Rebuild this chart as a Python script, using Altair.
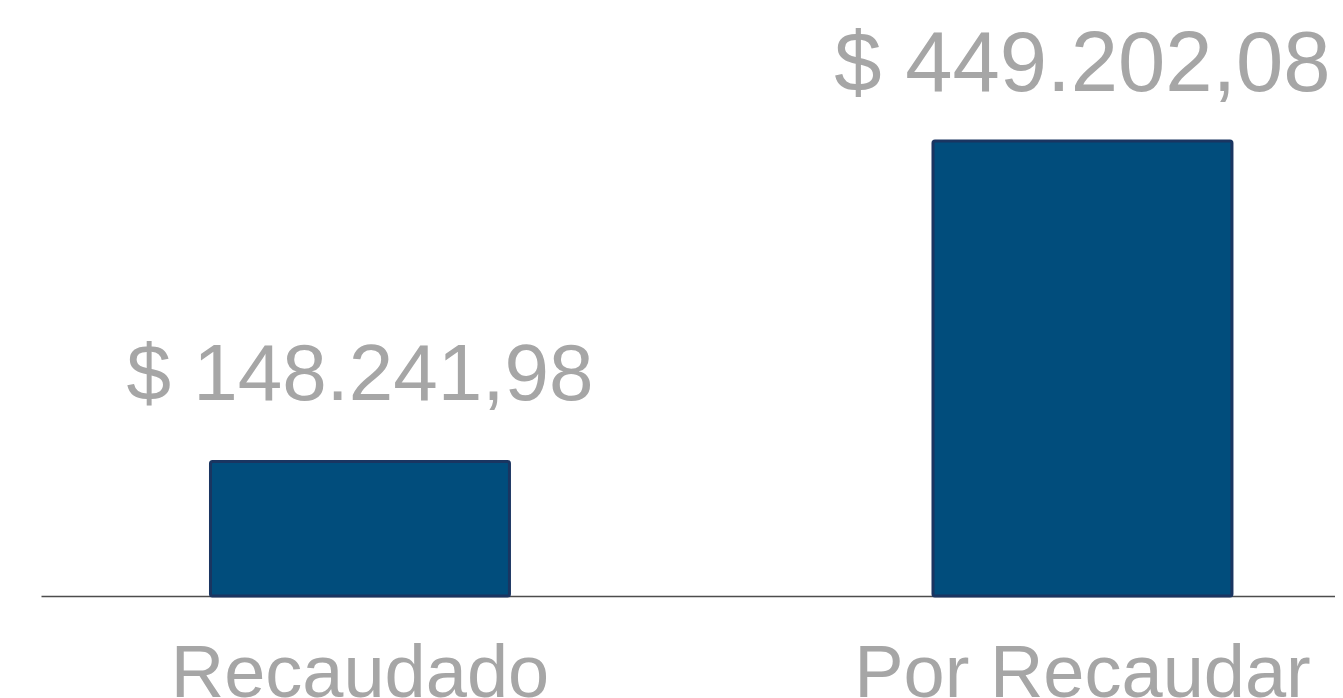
import altair as alt
import pandas as pd

categorias = ["Recaudado", "Por Recaudar"]
valores = [148241.98, 449202.08]
y_min = 22000            # lower end of the value axis (bars)
y_min_etiquetas = 6000   # lower end of the value axis used for the value labels


def fmt(v):
    s = f"{v:,.2f}"
    s = s.replace(",", "X").replace(".", ",").replace("X", ".")
    return "$ " + s


df = pd.DataFrame({
    "categoria": categorias,
    "valor": valores,
    "etiqueta": [fmt(v) for v in valores],
})

FONT = "Liberation Sans"
GRAY = "#a6a6a6"

x = alt.X(
    "categoria:N",
    sort=categorias,
    title=None,
    scale=alt.Scale(paddingInner=0.5862, paddingOuter=0.1886, align=0.6219),
    axis=alt.Axis(
        domainColor="#4d4d4d",
        domainWidth=1.3,
        ticks=False,
        grid=False,
        labelAngle=0,
        labelFont=FONT,
        labelFontSize=74,
        labelColor=GRAY,
        labelLimit=0,
        labelPadding=100,
        labelBaseline="alphabetic",
    ),
)

bars = alt.Chart(df).mark_bar(
    color="#014d7c", stroke="#1a3561", strokeWidth=3, cornerRadius=2
).encode(
    x=x,
    y=alt.Y(
        "valor:Q",
        scale=alt.Scale(domain=[y_min, max(valores)], nice=False, zero=False),
        axis=None,
    ),
    y2=alt.datum(y_min),
)

text = alt.Chart(df).mark_text(
    font=FONT, color=GRAY, baseline="alphabetic", dy=-50
).encode(
    x=x,
    y=alt.Y(
        "valor:Q",
        scale=alt.Scale(domain=[y_min_etiquetas, max(valores)], nice=False, zero=False),
        axis=None,
    ),
    text="etiqueta:N",
    size=alt.condition(alt.datum.valor > 300000, alt.value(85), alt.value(80)),
)

chart = (
    alt.layer(bars, text)
    .resolve_scale(y="independent")
    .properties(
        width=1294,
        height=455,
        autosize=alt.AutoSizeParams(type="none"),
        padding={"left": 33, "top": 133, "right": 0, "bottom": 102},
    )
    .configure_view(strokeWidth=0)
)

chart.save("out.html", embed_options={"renderer": "svg", "actions": False})
